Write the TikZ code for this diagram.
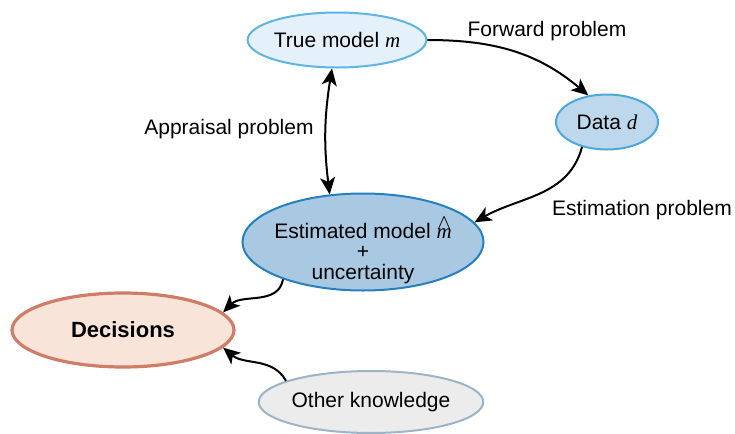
\documentclass[tikz,border=0pt]{standalone}
\usepackage{fontspec}
\setmainfont{Liberation Sans}
\newfontfamily\serifvar{Liberation Serif}
\usetikzlibrary{shapes.geometric,arrows.meta}
\definecolor{truefill}{HTML}{E4F0FA}
\definecolor{trueline}{HTML}{5DB5E2}
\definecolor{datafill}{HTML}{BDD7EC}
\definecolor{dataline}{HTML}{4AA8DA}
\definecolor{estfill}{HTML}{A9C9E3}
\definecolor{estline}{HTML}{2580C0}
\definecolor{decfill}{HTML}{F8E4D9}
\definecolor{decline}{HTML}{CF7D66}
\definecolor{othfill}{HTML}{ECECEC}
\definecolor{othline}{HTML}{9DB4C8}
\newcommand{\var}[1]{{\serifvar\itshape #1}}
\newcommand{\hatvar}[1]{\ooalign{\var{#1}\cr\hidewidth\smash{\raisebox{4.6pt}{$\wedge$}}\hidewidth\cr}}
\tikzset{
  blob/.style={ellipse, inner sep=0pt, line width=1pt, align=center,
    font=\fontsize{10.5}{10.5}\selectfont},
  tag/.style={inner sep=0pt, font=\fontsize{10.5}{10.5}\selectfont},
  tip/.tip={Stealth[length=8.5pt,width=7.5pt,inset=2.2pt]},
  link/.style={line width=1pt, -tip},
  twoway/.style={tip-tip}
}
\begin{document}
\begin{tikzpicture}[x=0.5pt,y=-0.5pt]
      \useasboundingbox (0,0) rectangle (735,434);
      \node[blob, draw=trueline, fill=truefill, minimum width=79pt, minimum height=27.5pt]
        (true) at (337,40) {True model \var{m}};
      \node[blob, draw=dataline, fill=datafill, minimum width=51pt, minimum height=27.5pt]
        (data) at (607,122) {Data \var{d}};
      \node[blob, draw=estline, fill=estfill, minimum width=120.5pt, minimum height=48.5pt]
        (est) at (363,242) {};
      \node[tag, align=center] (esttext) at (363,254)
        {Estimated model \hatvar{m}\\[-0.5pt]+\\uncertainty};
      \node[blob, draw=decline, fill=decfill, line width=1.6pt, minimum width=111pt, minimum height=37pt,
        font=\fontsize{11}{11}\selectfont\bfseries]
        (dec) at (123,330) {Decisions};
      \node[blob, draw=othline, fill=othfill, minimum width=109pt, minimum height=31pt]
        (oth) at (371,402) {Other knowledge};
      % problem labels
      \node[tag] (fwd) at (547,31) {Forward problem};
      \node[tag] (app) at (229,129) {Appraisal problem};
      \node[tag] (estim) at (642,210) {Estimation problem};
      \begin{scope}[link]
        \draw (true.east) to[out=0,in=140] (data.125);
        \draw (data.225) to[out=-105,in=30] (est.10);
        \draw[twoway] (true.260) to[bend right=8] (est.125);
        \draw (est.205) to[out=-100,in=45] (dec.10);
        \draw (oth.166) to[out=120,in=-40] (dec.-10);
      \end{scope}
    \end{tikzpicture}
\end{document}
